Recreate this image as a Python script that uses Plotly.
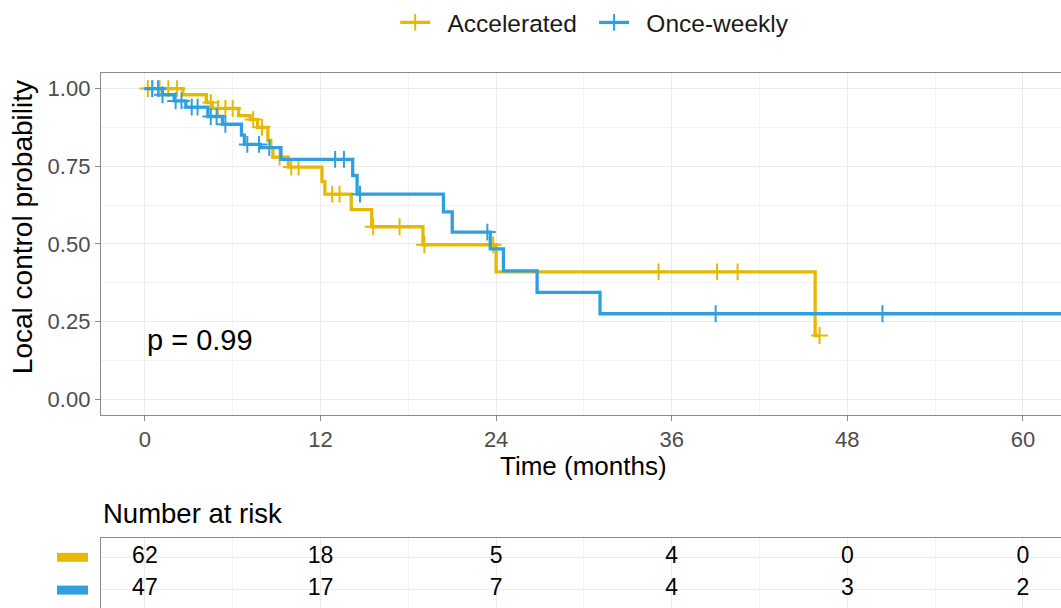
import plotly.graph_objects as go

# ---------------- data ----------------
groups = ["Accelerated", "Once-weekly"]
colors = ["#E7B800", "#2E9FDF"]

# Kaplan-Meier steps (event time in months, survival after the event)
acc_event_t = [2.6, 4.2, 4.6, 6.4, 7.2, 7.7, 8.4, 8.6, 8.75, 9.8, 12.1, 12.3, 14.1, 15.5, 19.0, 24.0, 45.8]
acc_surv    = [0.98, 0.955, 0.936, 0.913, 0.90, 0.875, 0.833, 0.81, 0.779, 0.747, 0.70, 0.66, 0.61, 0.555, 0.497, 0.41, 0.205]
acc_censor  = [0.2, 0.5, 1.0, 1.6, 2.2, 4.5, 5.0, 5.5, 6.0, 7.4, 8.0, 9.2, 10.0, 10.5, 12.8, 13.3, 15.6, 17.4, 19.1, 23.8, 35.1, 39.1, 40.5, 46.1]
acc_end = 46.1

ow_event_t = [1.2, 2.0, 2.8, 4.3, 5.3, 6.6, 6.8, 7.9, 9.3, 14.2, 14.5, 20.4, 21.0, 23.6, 24.5, 26.8, 31.1]
ow_surv    = [0.98, 0.96, 0.94, 0.91, 0.885, 0.85, 0.82, 0.81, 0.772, 0.72, 0.66, 0.603, 0.538, 0.484, 0.413, 0.344, 0.275]
ow_censor  = [0.5, 0.9, 1.2, 2.1, 2.5, 3.2, 3.6, 4.5, 4.9, 5.5, 7.0, 7.8, 8.5, 13.0, 13.6, 14.7, 23.4, 39.0, 50.4]
ow_end = 64.0

risk_times = [0, 12, 24, 36, 48, 60]
acc_risk = [62, 18, 5, 4, 0, 0]
ow_risk = [47, 17, 7, 4, 3, 2]

p_text = "p = 0.99"

# ---------------- helpers ----------------
def step_path(ev_t, surv, end):
    xs = [0] + list(ev_t) + [end]
    ys = [1.0] + list(surv) + [surv[-1]]
    return xs, ys

def surv_at(t, ev_t, surv):
    s = 1.0
    for et, sv in zip(ev_t, surv):
        if et <= t:
            s = sv
    return s

FONT = "Liberation Sans, Arial, Helvetica, sans-serif"
GRID = "#EBEBEB"
BORDER = "#8a8a8a"

fig = go.Figure()

series = [
    (acc_event_t, acc_surv, acc_censor, acc_end),
    (ow_event_t, ow_surv, ow_censor, ow_end),
]
for (ev, sv, cens, end), name, col in zip(series, groups, colors):
    xs, ys = step_path(ev, sv, end)
    fig.add_trace(go.Scatter(x=xs, y=ys, mode="lines", line=dict(color=col, width=3.3, shape="hv"),
                             showlegend=False, hoverinfo="skip", xaxis="x", yaxis="y"))
    fig.add_trace(go.Scatter(x=cens, y=[surv_at(t, ev, sv) for t in cens], mode="markers",
                             marker=dict(symbol="cross-thin", size=12, line=dict(color=col, width=2)),
                             showlegend=False, xaxis="x", yaxis="y"))
    # legend entry
    fig.add_trace(go.Scatter(x=[None], y=[None], mode="lines+markers", name="\u2002" + name + "\u2002",
                             line=dict(color=col, width=3.3),
                             marker=dict(symbol="cross-thin", size=12, line=dict(color=col, width=2)),
                             xaxis="x", yaxis="y"))

# risk table
for counts, name in zip([acc_risk, ow_risk], groups):
    fig.add_trace(go.Scatter(x=risk_times, y=[name] * len(risk_times), mode="text",
                             text=[str(c) for c in counts], textfont=dict(size=23, color="black", family=FONT),
                             showlegend=False, hoverinfo="skip", xaxis="x2", yaxis="y2"))

H_AREA = 538.0
main_dom = [(608 - 413.6) / H_AREA, 1.0]
tab_dom = [0.0, (608 - 538) / H_AREA]
XR = [-3.0, 62.6]

axis_common = dict(range=XR, tickmode="array", tickvals=risk_times, showgrid=True, gridcolor=GRID,
                   gridwidth=1.2, zeroline=False,
                   minor=dict(tickmode="array", tickvals=[6, 18, 30, 42, 54], showgrid=True,
                              gridcolor="#F3F3F3", gridwidth=0.8))

fig.update_layout(
    width=1061, height=608,
    margin=dict(l=101, r=0, t=70, b=0),
    paper_bgcolor="white", plot_bgcolor="white",
    font=dict(family=FONT, color="#4D4D4D"),
    xaxis=dict(domain=[0, 1], anchor="y", showline=True, linecolor=BORDER, linewidth=1.3, mirror=True,
               ticks="outside", ticklen=5, tickcolor=BORDER, tickwidth=1.3,
               ticktext=[str(t) for t in risk_times], tickfont=dict(size=22, color="#4D4D4D"),
               **axis_common),
    yaxis=dict(domain=main_dom, anchor="x", range=[-0.05, 1.05], tickmode="array",
               tickvals=[0, 0.25, 0.5, 0.75, 1.0], ticktext=["0.00", "0.25", "0.50", "0.75", "1.00"],
               tickfont=dict(size=22, color="#4D4D4D"), showgrid=True, gridcolor=GRID, gridwidth=1.2,
               minor=dict(tickmode="array", tickvals=[0.125, 0.375, 0.625, 0.875], showgrid=True,
                          gridcolor="#F3F3F3", gridwidth=0.8),
               zeroline=False, showline=True, linecolor=BORDER, linewidth=1.3,
               ticks="outside", ticklen=5, tickcolor=BORDER, tickwidth=1.3),
    xaxis2=dict(domain=[0, 1], anchor="y2", showticklabels=False, ticks="", showline=True,
                linecolor=BORDER, linewidth=1.3, mirror=True, **axis_common),
    yaxis2=dict(domain=tab_dom, anchor="x2", type="category", categoryorder="array",
                categoryarray=[groups[1], groups[0]], range=[-0.6, 1.6], showticklabels=False,
                ticks="", showgrid=True, gridcolor=GRID, gridwidth=1.2, zeroline=False,
                showline=True, linecolor=BORDER, linewidth=1.3),
    legend=dict(orientation="h", x=0.52, xanchor="center", y=(608 - 19) / H_AREA, yanchor="middle",
                font=dict(size=24.5, color="#1a1a1a", family=FONT), itemwidth=30,
                bgcolor="rgba(0,0,0,0)", traceorder="normal"),
    showlegend=True,
)

annotations = [
    dict(text=p_text, x=0, y=0.19, xref="x", yref="y", xanchor="left", yanchor="middle",
         showarrow=False, font=dict(size=29, color="black", family=FONT)),
    dict(text="Time (months)", x=(583 - 101) / 960, y=(608 - 465) / H_AREA, xref="paper", yref="paper",
         xanchor="center", yanchor="middle", showarrow=False, font=dict(size=26, color="black", family=FONT)),
    dict(text="Local control probability", x=(22 - 101) / 960, y=(608 - 225) / H_AREA, xref="paper",
         yref="paper", xanchor="center", yanchor="middle", textangle=-90, showarrow=False,
         font=dict(size=28, color="black", family=FONT)),
    dict(text="Number at risk", x=0, y=(608 - 513) / H_AREA, xref="paper", yref="paper",
         xanchor="left", yanchor="middle", showarrow=False, font=dict(size=27.5, color="black", family=FONT)),
]
fig.update_layout(annotations=annotations)

# colored group keys beside the risk table
row_py = [557, 590]
shapes = []
for py, col in zip(row_py, colors):
    yc = (608 - py) / H_AREA
    shapes.append(dict(type="rect", xref="paper", yref="paper", x0=(57 - 101) / 960, x1=(88 - 101) / 960,
                       y0=yc - 4.5 / H_AREA, y1=yc + 4.5 / H_AREA, fillcolor=col, line=dict(width=0)))
fig.update_layout(shapes=shapes)

fig.write_html("out.html", config={"displayModeBar": False},
               post_script="document.body.style.margin='0';document.body.style.padding='0';")
